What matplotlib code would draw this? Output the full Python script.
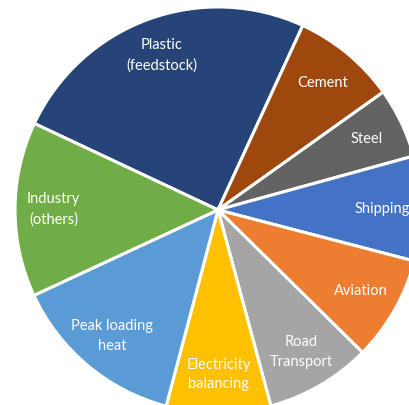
import matplotlib
matplotlib.use("Agg")
import matplotlib.pyplot as plt

labels = ["Plastic\n(feedstock)", "Cement", "Steel", "Shipping", "Aviation",
          "Road\nTransport", "Electricity\nbalancing", "Peak loading\nheat", "Industry\n(others)"]
values = [89.5, 29.8, 20.1, 30.0, 30.0, 30.3, 29.9, 50.3, 50.1]
colors = ["#264478", "#9E480E", "#636363", "#4472C4", "#ED7D31",
          "#A5A5A5", "#FFC000", "#5B9BD5", "#70AD47"]

fig = plt.figure(figsize=(4.10, 4.05), dpi=100)
ax = fig.add_axes([0, 0, 1, 1])
wedges, texts = ax.pie(values, labels=labels, colors=colors, startangle=154.8,
                       counterclock=False, labeldistance=0.81,
                       wedgeprops=dict(edgecolor="white", linewidth=2.2))
for t in texts:
    t.set_ha("center")
    t.set_va("center")
    t.set_color("white")
    t.set_fontfamily("Lato")
    t.set_fontsize(10.5)
    t.set_linespacing(1.5)
ax.set_xlim(-1.074, 0.946)
ax.set_ylim(-0.961, 1.034)
ax.set_aspect("equal")
ax.axis("off")
fig.savefig("out.png", dpi=100)
